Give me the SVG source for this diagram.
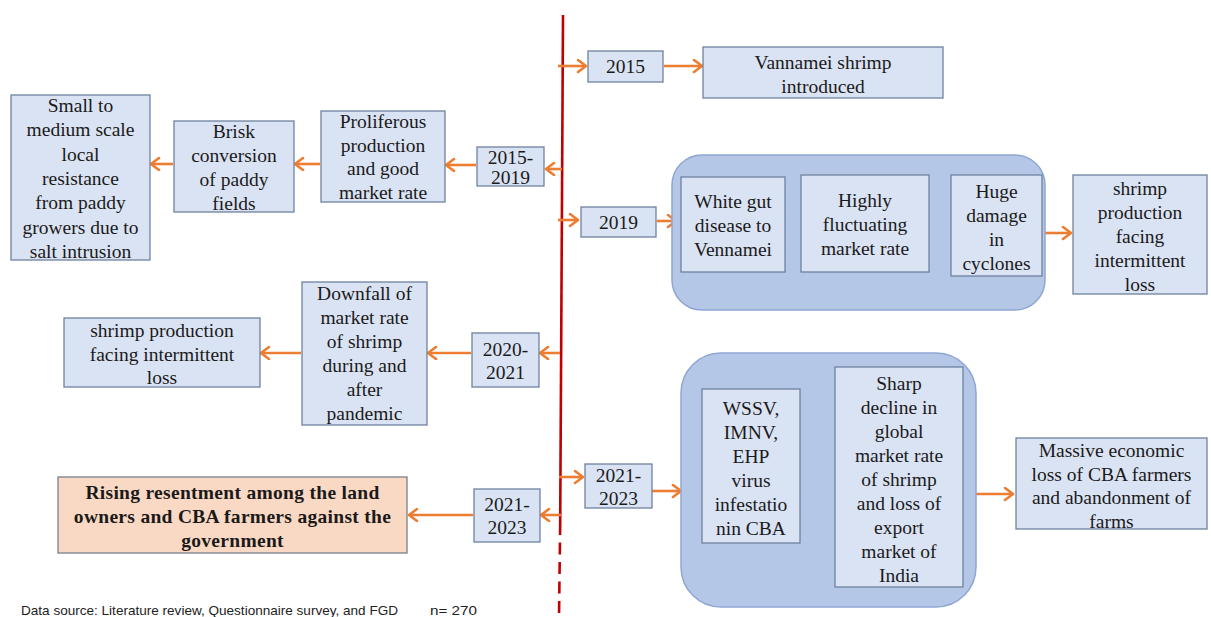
<svg xmlns="http://www.w3.org/2000/svg" width="1211" height="617" viewBox="0 0 1211 617">
  <style>
    .box { fill: #DAE3F3; stroke: #6F819F; stroke-width: 1.3; }
    .peach { fill: #FAD9C4; stroke: #7A7F8C; stroke-width: 1.3; }
    .group { fill: #B4C7E7; stroke: #8EA6D2; stroke-width: 1.5; }
    .t { font-size: 19.5px; fill: #1a1a1a; text-anchor: middle; }
    .tb { font-size: 19.5px; font-weight: bold; fill: #1a1a1a; text-anchor: middle; letter-spacing: 0.3px; }
    .foot { font-size: 13.5px; fill: #222; }
    .arrow { stroke: #ED7D31; stroke-width: 2.6; fill: none; marker-end: url(#head); }
  </style>
  <defs>
    <marker id="head" markerUnits="userSpaceOnUse" markerWidth="14" markerHeight="16" refX="10" refY="7" orient="auto">
      <path d="M2,1 L10,7 L2,13" fill="none" stroke="#ED7D31" stroke-width="2.6" stroke-linecap="round" stroke-linejoin="round"/>
    </marker>
  </defs>

  <rect width="1211" height="617" fill="#FFFFFF"/>

  <!-- timeline axis -->
  <g id="timeline">
    <line x1="563" y1="15" x2="560.2" y2="523" stroke="#C00000" stroke-width="2.6"/>
    <line x1="560.2" y1="523" x2="559" y2="617" stroke="#C00000" stroke-width="2.6" stroke-dasharray="12 7.5"/>
  </g>

  <!-- connectors -->
  <g id="connectors">
    <line class="arrow" x1="558" y1="66" x2="586" y2="66"/>
    <line class="arrow" x1="664" y1="66" x2="702" y2="66"/>
    <line class="arrow" x1="558" y1="220" x2="578" y2="220"/>
    <line class="arrow" x1="657" y1="221" x2="676" y2="221"/>
    <line class="arrow" x1="1045" y1="233" x2="1071" y2="233"/>
    <line class="arrow" x1="559" y1="477" x2="583" y2="477"/>
    <line class="arrow" x1="652" y1="491" x2="681" y2="491"/>
    <line class="arrow" x1="975" y1="494" x2="1013" y2="494"/>

    <line class="arrow" x1="562" y1="169" x2="546" y2="169"/>
    <line class="arrow" x1="476" y1="165" x2="446" y2="165"/>
    <line class="arrow" x1="320" y1="164" x2="295" y2="164"/>
    <line class="arrow" x1="173" y1="164" x2="151" y2="164"/>

    <line class="arrow" x1="560" y1="353" x2="540" y2="353"/>
    <line class="arrow" x1="471" y1="353" x2="428" y2="353"/>
    <line class="arrow" x1="301" y1="353" x2="261" y2="353"/>

    <line class="arrow" x1="561" y1="515" x2="541" y2="515"/>
    <line class="arrow" x1="473" y1="515" x2="409" y2="515"/>
  </g>

  <g font-family="'Liberation Serif', 'Times New Roman', serif">
  <!-- right side: 2015 -->
  <g id="y2015">
    <rect class="box" x="588" y="51" width="75" height="31"/>
    <text class="t" x="625.5" y="73">2015</text>
  </g>
  <g id="vannamei">
    <rect class="box" x="703" y="47" width="240" height="51"/>
    <text class="t" x="823" y="69">Vannamei shrimp<tspan x="823" dy="24">introduced</tspan></text>
  </g>

  <!-- right side: 2019 -->
  <g id="y2019">
    <rect class="box" x="581" y="207" width="75" height="30"/>
    <text class="t" x="618.5" y="229">2019</text>
  </g>
  <g id="issues2019">
    <rect class="group" x="672" y="155" width="373" height="155" rx="30" ry="30"/>
    <g id="whitegut">
      <rect class="box" x="681" y="177" width="104" height="95"/>
      <text class="t" x="733" y="208">White gut<tspan x="733" dy="24">disease to</tspan><tspan x="733" dy="24">Vennamei</tspan></text>
    </g>
    <g id="fluctuating">
      <rect class="box" x="801" y="175" width="128" height="97"/>
      <text class="t" x="865" y="207">Highly<tspan x="865" dy="24">fluctuating</tspan><tspan x="865" dy="24">market rate</tspan></text>
    </g>
    <g id="cyclones">
      <rect class="box" x="951" y="175" width="91" height="101"/>
      <text class="t" x="996.5" y="198">Huge<tspan x="996.5" dy="24">damage</tspan><tspan x="996.5" dy="24">in</tspan><tspan x="996.5" dy="24">cyclones</tspan></text>
    </g>
  </g>
  <g id="loss2019">
    <rect class="box" x="1073" y="175" width="134" height="119"/>
    <text class="t" x="1140" y="195">shrimp<tspan x="1140" dy="24">production</tspan><tspan x="1140" dy="24">facing</tspan><tspan x="1140" dy="24">intermittent</tspan><tspan x="1140" dy="24">loss</tspan></text>
  </g>

  <!-- right side: 2021-2023 -->
  <g id="y2021r">
    <rect class="box" x="585" y="464" width="67" height="44"/>
    <text class="t" x="618.5" y="482">2021-<tspan x="618.5" dy="23">2023</tspan></text>
  </g>
  <g id="issues2021">
    <rect class="group" x="681" y="353" width="295" height="254" rx="40" ry="40"/>
    <g id="virus">
      <rect class="box" x="702" y="389" width="98" height="154"/>
      <text class="t" x="751" y="415">WSSV,<tspan x="751" dy="24">IMNV,</tspan><tspan x="751" dy="24">EHP</tspan><tspan x="751" dy="24">virus</tspan><tspan x="751" dy="24">infestatio</tspan><tspan x="751" dy="24">nin CBA</tspan></text>
    </g>
    <g id="decline">
      <rect class="box" x="835" y="367" width="128" height="220"/>
      <text class="t" x="899" y="390">Sharp<tspan x="899" dy="24">decline in</tspan><tspan x="899" dy="24">global</tspan><tspan x="899" dy="24">market rate</tspan><tspan x="899" dy="24">of shrimp</tspan><tspan x="899" dy="24">and loss of</tspan><tspan x="899" dy="24">export</tspan><tspan x="899" dy="24">market of</tspan><tspan x="899" dy="24">India</tspan></text>
    </g>
  </g>
  <g id="massive">
    <rect class="box" x="1016" y="438" width="191" height="91"/>
    <text class="t" x="1111.5" y="457">Massive economic<tspan x="1111.5" dy="23.5">loss of CBA farmers</tspan><tspan x="1111.5" dy="23.5">and abandonment of</tspan><tspan x="1111.5" dy="23.5">farms</tspan></text>
  </g>

  <!-- left side: 2015-2019 -->
  <g id="y2015l">
    <rect class="box" x="477" y="147" width="67" height="39"/>
    <text class="t" x="510.5" y="164">2015-<tspan x="510.5" dy="19.5">2019</tspan></text>
  </g>
  <g id="proliferous">
    <rect class="box" x="321" y="111" width="124" height="91"/>
    <text class="t" x="383" y="128">Proliferous<tspan x="383" dy="23.5">production</tspan><tspan x="383" dy="23.5">and good</tspan><tspan x="383" dy="23.5">market rate</tspan></text>
  </g>
  <g id="brisk">
    <rect class="box" x="174" y="121" width="120" height="91"/>
    <text class="t" x="234" y="138">Brisk<tspan x="234" dy="24">conversion</tspan><tspan x="234" dy="24">of paddy</tspan><tspan x="234" dy="24">fields</tspan></text>
  </g>
  <g id="resistance">
    <rect class="box" x="11" y="95" width="139" height="165"/>
    <text class="t" x="80.5" y="112">Small to<tspan x="80.5" dy="24.3">medium scale</tspan><tspan x="80.5" dy="24.3">local</tspan><tspan x="80.5" dy="24.3">resistance</tspan><tspan x="80.5" dy="24.3">from paddy</tspan><tspan x="80.5" dy="24.3">growers due to</tspan><tspan x="80.5" dy="24.3">salt intrusion</tspan></text>
  </g>

  <!-- left side: 2020-2021 -->
  <g id="y2020">
    <rect class="box" x="472" y="333" width="67" height="54"/>
    <text class="t" x="505.5" y="356">2020-<tspan x="505.5" dy="23">2021</tspan></text>
  </g>
  <g id="downfall">
    <rect class="box" x="302" y="282" width="125" height="143"/>
    <text class="t" x="364.5" y="300">Downfall of<tspan x="364.5" dy="24">market rate</tspan><tspan x="364.5" dy="24">of shrimp</tspan><tspan x="364.5" dy="24">during and</tspan><tspan x="364.5" dy="24">after</tspan><tspan x="364.5" dy="24">pandemic</tspan></text>
  </g>
  <g id="loss2020">
    <rect class="box" x="64" y="318" width="196" height="69"/>
    <text class="t" x="162" y="337">shrimp production<tspan x="162" dy="23.5">facing intermittent</tspan><tspan x="162" dy="23.5">loss</tspan></text>
  </g>

  <!-- left side: 2021-2023 -->
  <g id="y2021l">
    <rect class="box" x="474" y="489" width="66" height="53"/>
    <text class="t" x="507" y="511">2021-<tspan x="507" dy="23">2023</tspan></text>
  </g>
  <g id="resentment">
    <rect class="peach" x="58" y="477" width="349" height="76"/>
    <text class="tb" x="232.5" y="499">Rising resentment among the land<tspan x="232.5" dy="24">owners and CBA farmers against the</tspan><tspan x="232.5" dy="24">government</tspan></text>
  </g>
  </g>

  <!-- footer -->
  <g id="footer" font-family="'Liberation Sans', Arial, sans-serif">
    <text class="foot" x="21" y="615" textLength="377" lengthAdjust="spacingAndGlyphs">Data source: Literature review, Questionnaire survey, and FGD</text>
    <text class="foot" x="430" y="615" font-size="14.5" textLength="47" lengthAdjust="spacingAndGlyphs">n= 270</text>
  </g>
</svg>
